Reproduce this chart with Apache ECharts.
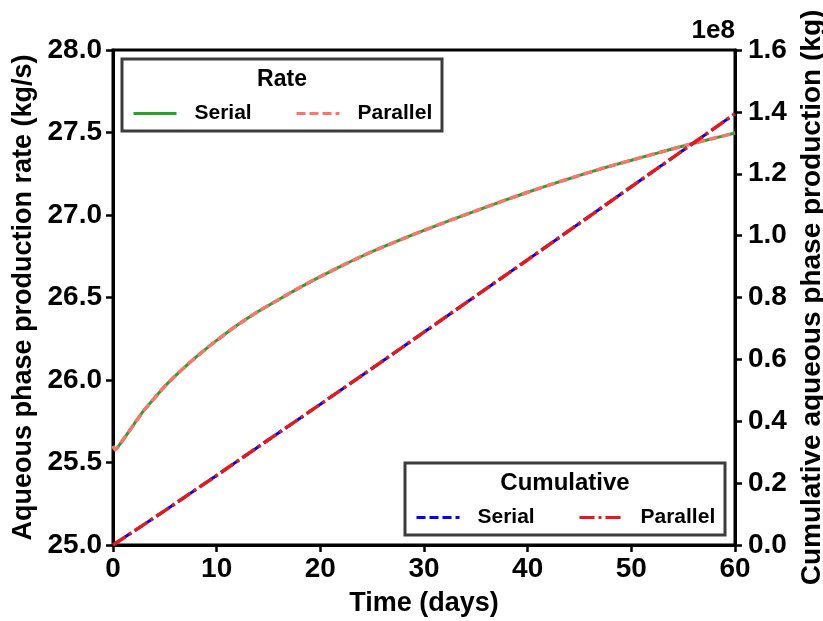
<!DOCTYPE html>
<html>
<head>
<meta charset="utf-8">
<script src="https://cdn.jsdelivr.net/npm/echarts@6/dist/echarts.min.js"></script>
<style>
  html, body { margin: 0; padding: 0; background: #fff; }
  #chart { width: 823px; height: 621px; }
</style>
</head>
<body>
<div id="chart"></div>
<script>
// time points (days) for the rate curves
const rateDays = [0, 0.2, 1, 2, 3, 4, 5, 6, 7, 8, 9, 10, 12, 14, 16, 18, 20, 22, 24, 26, 28, 30,
  32.5, 35, 37.5, 40, 42.5, 45, 47.5, 50, 52.5, 55, 57.5, 60]
// aqueous phase production rate (kg/s)
const rateSerial = [25.60, 25.578, 25.64, 25.73, 25.817, 25.89, 25.962, 26.025, 26.083, 26.138, 26.19, 26.24,
  26.333, 26.415, 26.488, 26.56, 26.627, 26.69, 26.75, 26.805, 26.857, 26.907,
  26.967, 27.025, 27.083, 27.138, 27.19, 27.24, 27.288, 27.332, 27.375, 27.418, 27.458, 27.497]
const rateParallel = [25.60, 25.578, 25.64, 25.73, 25.817, 25.89, 25.962, 26.025, 26.083, 26.138, 26.19, 26.24,
  26.333, 26.415, 26.488, 26.56, 26.627, 26.69, 26.75, 26.805, 26.857, 26.907,
  26.967, 27.025, 27.083, 27.138, 27.19, 27.24, 27.288, 27.332, 27.375, 27.418, 27.458, 27.497]

// time points (days) for the cumulative curves
const cumDays = [0, 5, 10, 15, 20, 25, 30, 35, 40, 45, 50, 55, 60]
// cumulative aqueous phase production (x 1e8 kg)
const cumSerial = [0, 0.111, 0.225, 0.340, 0.455, 0.571, 0.688, 0.805, 0.922, 1.040, 1.158, 1.276, 1.394]
const cumParallel = [0, 0.111, 0.225, 0.340, 0.455, 0.571, 0.688, 0.805, 0.922, 1.040, 1.158, 1.276, 1.394]

const labelNames = { rateSerial: 'Serial', rateParallel: 'Parallel', cumSerial: 'Serial', cumParallel: 'Parallel' }

const zip = (xs, ys) => xs.map((x, i) => [x, ys[i]])

const font = 'Liberation Sans, Arial, sans-serif'
const tickLabel = { color: '#000', fontFamily: font, fontWeight: 'bold', fontSize: 28 }
const axisTitle = { color: '#000', fontFamily: font, fontWeight: 'bold', fontSize: 27 }

function makeLegend(name, left, top) {
  return {
    data: [name],
    left: left,
    top: top,
    z: 60,
    padding: 0,
    itemWidth: 43,
    itemHeight: 14,
    selectedMode: false,
    itemStyle: { opacity: 0, borderWidth: 0 },
    lineStyle: { width: 3 },
    formatter: n => labelNames[n],
    textStyle: { color: '#000', fontFamily: font, fontWeight: 'bold', fontSize: 21, padding: [0, 0, 0, 13] }
  }
}

const chart = echarts.init(document.getElementById('chart'))

chart.setOption({
  animation: false,
  backgroundColor: '#fff',
  grid: {
    left: 113, right: 88, top: 50, bottom: 76, containLabel: false, outerBoundsMode: 'none',
    show: true, borderColor: '#000', borderWidth: 3
  },
  xAxis: {
    type: 'value', min: 0, max: 60, interval: 10,
    name: 'Time (days)', nameLocation: 'middle', nameGap: 45, nameTextStyle: axisTitle,
    axisLine: { lineStyle: { color: '#000', width: 3 } },
    axisTick: { inside: false, length: 7, lineStyle: { color: '#000', width: 2.5 } },
    axisLabel: Object.assign({ margin: 10 }, tickLabel),
    splitLine: { show: false }
  },
  yAxis: [{
    type: 'value', min: 25, max: 28, interval: 0.5,
    name: 'Aqueous phase production rate (kg/s)', nameLocation: 'middle', nameGap: 74, nameTextStyle: axisTitle,
    axisLine: { show: true, lineStyle: { color: '#000', width: 3 } },
    axisTick: { show: true, length: 7, lineStyle: { color: '#000', width: 2.5 } },
    axisLabel: Object.assign({ margin: 11, formatter: v => v.toFixed(1) }, tickLabel),
    splitLine: { show: false }
  }, {
    type: 'value', min: 0, max: 1.6, interval: 0.2, position: 'right',
    name: 'Cumulative aqueous phase production (kg)', nameLocation: 'middle', nameGap: 56,
    nameRotate: 90, nameTextStyle: Object.assign({}, axisTitle, { fontSize: 28 }),
    axisLine: { show: true, lineStyle: { color: '#000', width: 3 } },
    axisTick: { show: true, length: 7, lineStyle: { color: '#000', width: 2.5 } },
    axisLabel: Object.assign({ margin: 13, formatter: v => v.toFixed(1) }, tickLabel),
    splitLine: { show: false }
  }],
  legend: [
    makeLegend('rateSerial', 132, 103),
    makeLegend('rateParallel', 295, 103),
    makeLegend('cumSerial', 415, 507),
    makeLegend('cumParallel', 578, 507)
  ],
  graphic: [
    { type: 'rect', z: 50, shape: { x: 122, y: 59, width: 320, height: 72 },
      style: { fill: '#fff', stroke: '#3c3c3c', lineWidth: 3 } },
    { type: 'text', z: 51, x: 282, y: 80,
      style: { text: 'Rate', font: 'bold 23px ' + font, fill: '#000', align: 'center', verticalAlign: 'middle' } },
    { type: 'rect', z: 50, shape: { x: 405, y: 463, width: 320, height: 72 },
      style: { fill: '#fff', stroke: '#3c3c3c', lineWidth: 3 } },
    { type: 'text', z: 51, x: 565, y: 483,
      style: { text: 'Cumulative', font: 'bold 24px ' + font, fill: '#000', align: 'center', verticalAlign: 'middle' } },
    { type: 'text', z: 51, x: 735, y: 31,
      style: { text: '1e8', font: 'bold 26px ' + font, fill: '#000', align: 'right', verticalAlign: 'middle' } }
  ],
  series: [{
    name: 'rateSerial', type: 'line', yAxisIndex: 0, symbol: 'none', z: 2,
    smooth: 0.2,
    data: zip(rateDays, rateSerial),
    itemStyle: { color: '#2ca02c' },
    lineStyle: { color: '#2ca02c', width: 3 }
  }, {
    name: 'rateParallel', type: 'line', yAxisIndex: 0, symbol: 'none', z: 3,
    smooth: 0.2,
    data: zip(rateDays, rateParallel),
    itemStyle: { color: '#f8766b' },
    lineStyle: { color: '#f8766b', width: 3.5, type: [9, 4] }
  }, {
    name: 'cumSerial', type: 'line', yAxisIndex: 1, symbol: 'none', z: 4,
    data: zip(cumDays, cumSerial),
    itemStyle: { color: '#0000ff' },
    lineStyle: { color: '#0000ff', width: 3, type: [9, 4] }
  }, {
    name: 'cumParallel', type: 'line', yAxisIndex: 1, symbol: 'none', z: 5,
    data: zip(cumDays, cumParallel),
    itemStyle: { color: '#e31a1c' },
    lineStyle: { color: '#e31a1c', width: 3.5, type: [15, 4, 3, 4] }
  }]
})
</script>
</body>
</html>
